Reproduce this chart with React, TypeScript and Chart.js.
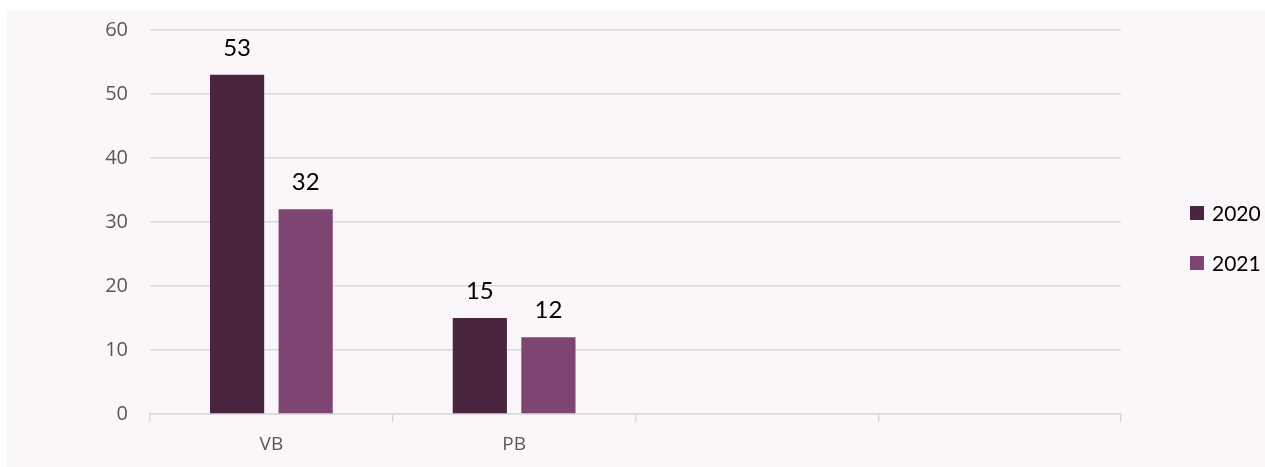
import React, { useEffect, useRef } from "react";
import { Chart, registerables } from "chart.js";

Chart.register(...registerables);

const categories = ["VB", "PB", "", ""];
const seriesNames = ["2020", "2021"];
const values2020 = [53, 15, null, null];
const values2021 = [32, 12, null, null];
const seriesColors = ["#4A2540", "#7E4573"];
const yTicks = [0, 10, 20, 30, 40, 50, 60];

const BG = "#FAF6FA";

const labelPlugin = {
  id: "valueLabels",
  afterDatasetsDraw(chart: any) {
    const ctx = chart.ctx;
    ctx.save();
    ctx.fillStyle = "#000000";
    ctx.font = "24px Lato";
    ctx.textAlign = "center";
    ctx.textBaseline = "alphabetic";
    chart.data.datasets.forEach((ds: any, i: number) => {
      const meta = chart.getDatasetMeta(i);
      meta.data.forEach((bar: any, j: number) => {
        const v = ds.data[j];
        if (v == null) return;
        ctx.fillText(String(v), bar.x, bar.y - 19);
      });
    });
    ctx.restore();
  },
};

const legendPlugin = {
  id: "customLegend",
  afterDraw(chart: any) {
    const ctx = chart.ctx;
    ctx.save();
    ctx.font = "21px Lato";
    ctx.textBaseline = "middle";
    ctx.textAlign = "left";
    seriesNames.forEach((name, i) => {
      const cy = 203 + i * 50;
      ctx.fillStyle = seriesColors[i];
      ctx.fillRect(1183, cy - 7, 14, 14);
      ctx.fillStyle = "#000000";
      ctx.fillText(name, 1205, cy + 1);
    });
    ctx.restore();
  },
};

export default function App() {
  const ref = useRef<HTMLCanvasElement | null>(null);
  useEffect(() => {
    if (!ref.current) return;
    const chart = new Chart(ref.current, {
      type: "bar",
      data: {
        labels: categories,
        datasets: [
          {
            label: seriesNames[0],
            data: values2020 as any,
            backgroundColor: seriesColors[0],
            categoryPercentage: 0.565,
            barPercentage: 0.79,
          },
          {
            label: seriesNames[1],
            data: values2021 as any,
            backgroundColor: seriesColors[1],
            categoryPercentage: 0.565,
            barPercentage: 0.79,
          },
        ],
      },
      options: {
        animation: false,
        responsive: false,
        maintainAspectRatio: false,
        layout: { padding: { left: 0, right: 144, top: 20, bottom: 0 } },
        plugins: {
          legend: { display: false },
          tooltip: { enabled: false },
        },
        scales: {
          x: {
            offset: true,
            grid: {
              display: true,
              offset: true,
              drawOnChartArea: false,
              drawTicks: true,
              tickLength: 8,
              color: "#D9D9D9",
              lineWidth: 1.5,
            },
            border: { display: true, color: "#D9D9D9", width: 1.5 },
            ticks: {
              color: "#595959",
              font: { family: "Open Sans", size: 19 },
              padding: 11,
              maxRotation: 0,
            },
            afterFit(scale: any) {
              scale.height = 53;
              scale.paddingLeft = 0;
              scale.paddingRight = 0;
            },
          },
          y: {
            min: 0,
            max: 60,
            afterBuildTicks(scale: any) {
              scale.ticks = yTicks.map((v) => ({ value: v }));
            },
            grid: {
              color: "#D9D9D9",
              lineWidth: 1.5,
              drawTicks: false,
            },
            border: { display: false },
            ticks: {
              color: "#595959",
              font: { family: "Open Sans", size: 20 },
              padding: 22,
            },
            afterFit(scale: any) {
              scale.width = 143;
              scale.paddingTop = 0;
              scale.paddingBottom = 0;
            },
          },
        },
      },
      plugins: [labelPlugin, legendPlugin],
    });
    return () => chart.destroy();
  }, []);
  return (
    <div
      style={{
        position: "absolute",
        left: 7,
        top: 10,
        width: 1258,
        height: 457,
        background: BG,
      }}
    >
      <canvas ref={ref} width={1258} height={457} style={{ display: "block" }} />
    </div>
  );
}
